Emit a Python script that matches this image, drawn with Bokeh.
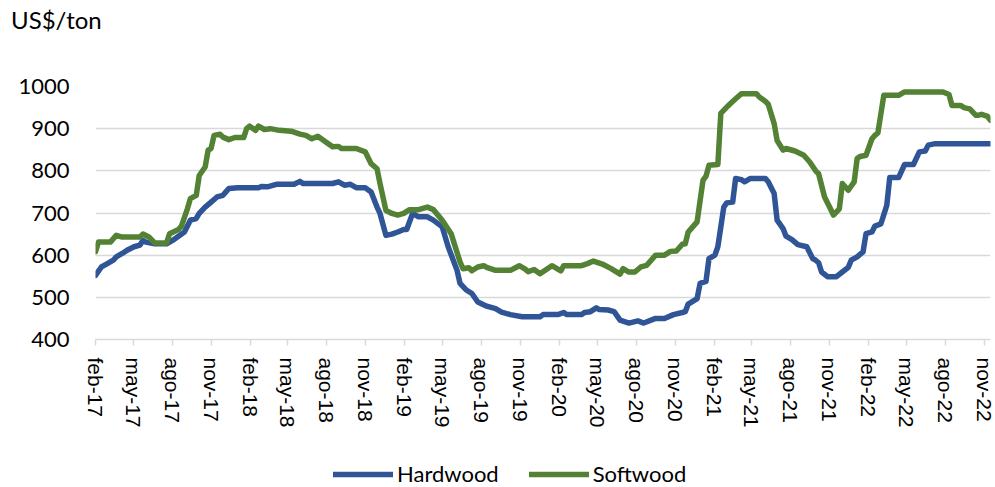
import numpy as np
import pandas as pd
from bokeh.plotting import figure
from bokeh.layouts import column
from bokeh.models import FixedTicker, Legend, LegendItem, Range1d, Div
from bokeh.embed import file_html
from bokeh.resources import INLINE

# ---------------- data (weekly prices, US$/ton) ----------------
start_date = "2017-02-01"
last_week = 302

hw_weeks = [0, 2, 4, 6, 7, 9, 11, 13, 15, 16, 17, 20, 24, 26, 28, 30, 32, 34, 35, 37, 39, 41, 43, 44, 45, 48,
            55, 56, 58, 61, 67, 69, 70, 80, 82, 84, 86, 88, 91, 93, 95, 96, 98, 100, 102, 104, 105, 107, 109,
            112, 114, 117, 119, 122, 123, 125, 127, 129, 132, 135, 137, 140, 144, 150, 151, 156, 158, 159, 164,
            165, 167, 169, 170, 173, 175, 177, 180, 183, 185, 189, 192, 195, 198, 199, 200, 203, 204, 206, 207,
            209, 210, 212, 213, 215, 216, 218, 219, 221, 226, 227, 229, 230, 232, 233, 235, 237, 240, 242, 243,
            244, 245, 247, 250, 252, 254, 255, 257, 259, 260, 262, 263, 265, 267, 268, 271, 273, 276, 278, 280,
            281, 283, 302]
hw_values = [552, 572, 580, 588, 596, 604, 613, 620, 624, 635, 631, 627, 627, 635, 645, 655, 683, 687, 699, 714,
             726, 738, 742, 750, 758, 760, 760, 763, 762, 768, 768, 775, 770, 770, 774, 766, 768, 760, 760, 750,
             714, 699, 647, 650, 655, 661, 661, 699, 691, 691, 683, 667, 620, 564, 533, 518, 509, 489, 479, 473,
             465, 459, 454, 454, 459, 459, 464, 459, 459, 464, 466, 475, 471, 470, 466, 446, 439, 444, 439, 450,
             450, 459, 464, 466, 484, 497, 533, 538, 592, 600, 620, 714, 724, 726, 782, 779, 774, 782, 782, 774,
             746, 683, 663, 645, 637, 625, 620, 592, 588, 582, 560, 549, 549, 560, 571, 588, 596, 608, 651, 655,
             669, 674, 718, 784, 784, 815, 815, 845, 847, 861, 864, 864]

sw_weeks = [0, 1, 5, 7, 9, 15, 16, 18, 20, 24, 25, 28, 29, 31, 32, 34, 35, 37, 38, 39, 40, 42, 43, 45, 47, 50,
            51, 52, 54, 55, 57, 59, 62, 66, 69, 71, 73, 75, 77, 80, 82, 83, 88, 91, 93, 95, 96, 98, 100, 102,
            104, 106, 109, 112, 114, 117, 120, 123, 124, 126, 127, 129, 131, 132, 135, 140, 143, 145, 146, 148,
            150, 154, 157, 158, 164, 166, 168, 171, 174, 177, 178, 180, 182, 184, 186, 189, 192, 194, 196, 198,
            199, 200, 201, 203, 205, 206, 207, 210, 211, 213, 214, 216, 218, 223, 224, 226, 227, 229, 230, 232,
            233, 236, 239, 241, 243, 244, 246, 248, 249, 251, 252, 254, 256, 257, 258, 260, 262, 263, 264, 266,
            271, 273, 286, 288, 289, 292, 293, 295, 297, 298, 299, 301, 302]
sw_values = [608, 631, 631, 647, 643, 643, 650, 643, 629, 629, 651, 661, 669, 710, 734, 742, 789, 809, 849, 853,
             884, 887, 880, 874, 879, 879, 900, 906, 896, 906, 898, 900, 896, 894, 887, 884, 876, 882, 872, 857,
             858, 853, 853, 845, 817, 805, 770, 706, 699, 695, 699, 708, 708, 714, 708, 683, 651, 584, 568, 570,
             563, 572, 575, 571, 564, 564, 575, 567, 561, 566, 556, 575, 563, 575, 575, 580, 586, 579, 568, 555,
             568, 560, 560, 572, 576, 600, 600, 609, 610, 626, 627, 655, 663, 679, 778, 787, 813, 815, 936, 951,
             958, 971, 983, 983, 975, 965, 958, 912, 872, 849, 853, 847, 837, 821, 800, 793, 738, 710, 695, 710,
             770, 754, 774, 829, 834, 837, 876, 884, 890, 979, 979, 987, 987, 981, 955, 955, 950, 947, 932, 932,
             934, 929, 920]

tick_dates = ["2017-02-01", "2017-05-01", "2017-08-01", "2017-11-01",
              "2018-02-01", "2018-05-01", "2018-08-01", "2018-11-01",
              "2019-02-01", "2019-05-01", "2019-08-01", "2019-11-01",
              "2020-02-01", "2020-05-01", "2020-08-01", "2020-11-01",
              "2021-02-01", "2021-05-01", "2021-08-01", "2021-11-01",
              "2022-02-01", "2022-05-01", "2022-08-01", "2022-11-01"]
tick_labels = ["feb-17", "may-17", "ago-17", "nov-17", "feb-18", "may-18", "ago-18", "nov-18",
               "feb-19", "may-19", "ago-19", "nov-19", "feb-20", "may-20", "ago-20", "nov-20",
               "feb-21", "may-21", "ago-21", "nov-21", "feb-22", "may-22", "ago-22", "nov-22"]
y_ticks = [400, 500, 600, 700, 800, 900, 1000]

series_names = ["Hardwood", "Softwood"]
series_colors = ["#2f5597", "#548235"]
unit_text = "US$/ton"

# ---------------- build ----------------
t0 = pd.Timestamp(start_date)
hw_dates = t0 + pd.to_timedelta(np.array(hw_weeks) * 7, unit="D")
sw_dates = t0 + pd.to_timedelta(np.array(sw_weeks) * 7, unit="D")
t_end = t0 + pd.Timedelta(days=7 * last_week)

tick_ms = [pd.Timestamp(d).timestamp() * 1000.0 for d in tick_dates]

# unit label strip above the chart
head = Div(text=f'<div style="padding:5px 0 0 11px; font-family:Lato; font-size:24px; '
                f'line-height:normal; color:#000000; white-space:nowrap;">{unit_text}</div>',
           width=995, height=40, margin=0)

p = figure(width=995, height=402, x_axis_type="datetime",
           x_range=Range1d(t0, t_end), y_range=Range1d(400, 1000),
           output_backend="svg", toolbar_location=None,
           min_border_left=95, min_border_right=5, min_border_top=46, min_border_bottom=103)
p.outline_line_color = None
p.background_fill_color = "white"

p.line(hw_dates, hw_values, line_color=series_colors[0], line_width=5.5,
       line_join="round", line_cap="round")
p.line(sw_dates, sw_values, line_color=series_colors[1], line_width=5.5,
       line_join="round", line_cap="round")

# grid
p.xgrid.visible = False
p.ygrid.grid_line_color = "#d9d9d9"
p.ygrid.grid_line_width = 1.5
p.ygrid.ticker = FixedTicker(ticks=y_ticks)

# y axis
p.yaxis.ticker = FixedTicker(ticks=y_ticks)
p.yaxis.axis_line_color = None
p.yaxis.major_tick_line_color = None
p.yaxis.minor_tick_line_color = None
p.yaxis.major_label_standoff = 20
p.yaxis.major_label_text_font = "Lato"
p.yaxis.major_label_text_font_size = "22px"
p.yaxis.major_label_text_color = "#000000"

# x axis
p.xaxis.ticker = FixedTicker(ticks=tick_ms)
p.xaxis.major_label_overrides = {ms: lab for ms, lab in zip(tick_ms, tick_labels)}
p.xaxis.axis_line_color = "#d9d9d9"
p.xaxis.axis_line_width = 1.5
p.xaxis.major_tick_line_color = "#d9d9d9"
p.xaxis.major_tick_line_width = 1.5
p.xaxis.major_tick_out = 6
p.xaxis.major_tick_in = 0
p.xaxis.minor_tick_line_color = None
p.xaxis.major_label_orientation = "vertical"
p.xaxis.major_label_standoff = 12
p.xaxis.major_label_text_font = "Liberation Sans"
p.xaxis.major_label_text_font_size = "21px"
p.xaxis.major_label_text_color = "#000000"

# legend strip below the chart (its lines use the same series, outside its empty view)
p_leg = figure(width=995, height=45, x_range=Range1d(0, 1), y_range=Range1d(0, 1),
               x_axis_location=None, y_axis_location=None,
               output_backend="svg", toolbar_location=None, min_border=0)
p_leg.outline_line_color = None
p_leg.xgrid.visible = False
p_leg.ygrid.visible = False
leg_hw = p_leg.line(hw_dates, hw_values, line_color=series_colors[0], line_width=5.5, line_cap="round")
leg_sw = p_leg.line(sw_dates, sw_values, line_color=series_colors[1], line_width=5.5, line_cap="round")
legend = Legend(items=[LegendItem(label=series_names[0], renderers=[leg_hw]),
                       LegendItem(label=series_names[1], renderers=[leg_sw])],
                orientation="horizontal", location=(238, 0),
                border_line_color=None, background_fill_alpha=0,
                padding=0, margin=0, spacing=30, glyph_width=60, glyph_height=20,
                label_standoff=4, label_text_font="Lato", label_text_font_size="22px",
                label_text_color="#000000")
p_leg.add_layout(legend)

layout = column(head, p, p_leg, spacing=0)
open("out.html", "w").write(file_html(layout, INLINE))
